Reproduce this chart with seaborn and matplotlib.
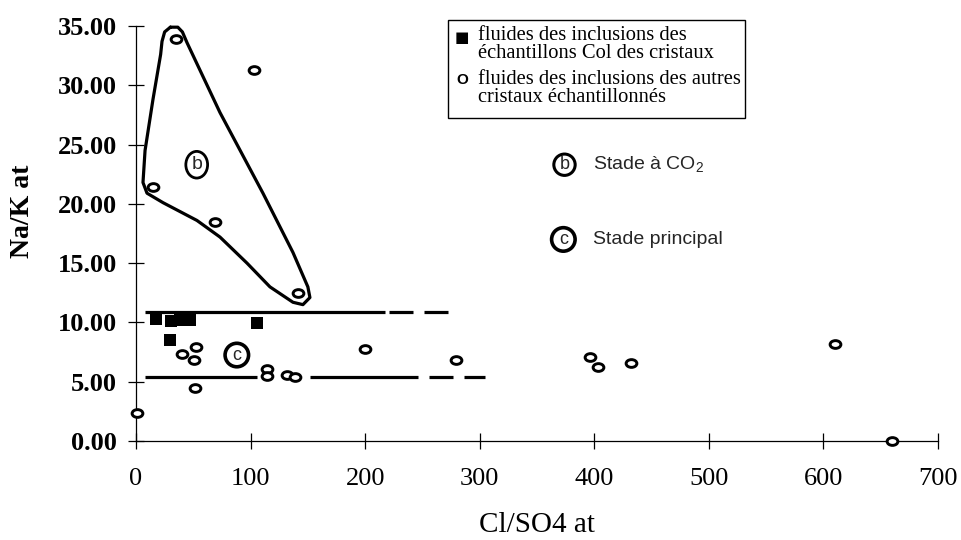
import matplotlib
matplotlib.use("Agg")
import matplotlib.pyplot as plt
import matplotlib.transforms as mtrans
from matplotlib.path import Path
from matplotlib.patches import Rectangle, Ellipse
import seaborn as sns
import pandas as pd

# ---------------- data ----------------
col_x = [17.5, 30.5, 38, 47, 105.5, 29.5]
col_y = [10.25, 10.1, 10.2, 10.2, 9.95, 8.5]

other_x = [1, 15, 35, 103, 69, 141, 52, 40, 51, 51.5, 114, 114, 132, 139,
           200, 279, 396, 403, 432, 610, 660]
other_y = [2.4, 21.4, 33.9, 31.3, 18.5, 12.5, 7.9, 7.3, 6.8, 4.5, 6.1, 5.5,
           5.6, 5.4, 7.8, 6.8, 7.1, 6.2, 6.6, 8.2, 0.0]

# envelope of the CO2 stage (closed curve)
env_x = [30, 25, 22.7, 21.5, 14.8, 7.9, 6.1, 9.6, 23.6, 53.2, 73.3, 96.9,
         116.9, 137, 145.7, 151.8, 150, 137, 110.8, 73.3, 44.5, 40.5, 36.5, 30]
env_y = [34.9, 34.5, 33.7, 32.6, 28.8, 24.5, 21.8, 20.9, 20.1, 18.6, 17.2,
         15.0, 13.0, 11.7, 11.5, 12.1, 13.0, 15.9, 20.9, 27.7, 33.6, 34.5,
         34.9, 34.9]

# dashed limits of the main stage
upper_y = 10.88
upper_start = [8, 221, 251]
upper_end = [217, 242, 272]
lower_y = 5.40
lower_start = [8, 152, 256, 286]
lower_end = [106, 246, 277, 305]

x_ticks = [0, 100, 200, 300, 400, 500, 600, 700]
y_ticks = [0, 5, 10, 15, 20, 25, 30, 35]

legend_entries = ["fluides des inclusions des\néchantillons Col des cristaux",
                  "fluides des inclusions des autres\ncristaux échantillonnés"]

# ---------------- figure ----------------
sns.set_theme(style="white")
plt.rcParams["font.family"] = ["Liberation Serif", "DejaVu Serif"]
plt.rcParams["mathtext.fontset"] = "custom"
plt.rcParams["mathtext.rm"] = "Liberation Sans"

W, H = 961, 540
fig = plt.figure(figsize=(W / 100, H / 100), dpi=100)
fig.patch.set_facecolor("white")
ax = fig.add_axes([136 / W, 1 - 441 / H, (938 - 136) / W, (441 - 26) / H])
ax.set_facecolor("white")

ell = Path.unit_circle().transformed(mtrans.Affine2D().scale(1.0, 0.72))

df_col = pd.DataFrame({"x": col_x, "y": col_y})
df_oth = pd.DataFrame({"x": other_x, "y": other_y})
df_env = pd.DataFrame({"x": env_x, "y": env_y})

sns.lineplot(data=df_env, x="x", y="y", sort=False, estimator=None, ax=ax,
             color="black", linewidth=2.3, solid_joinstyle="round",
             clip_on=False)
ax.hlines([upper_y] * len(upper_start), upper_start, upper_end, color="black",
          linewidth=2.3)
ax.hlines([lower_y] * len(lower_start), lower_start, lower_end, color="black",
          linewidth=2.3)

sns.scatterplot(data=df_oth, x="x", y="y", ax=ax, marker=ell, s=60,
                facecolor="white", edgecolor="black", linewidth=2.1,
                clip_on=False, zorder=5)
sns.scatterplot(data=df_col, x="x", y="y", ax=ax, marker="s", s=72,
                color="black", linewidth=0, clip_on=False, zorder=6)

ax.set_xlim(0, 700)
ax.set_ylim(0, 35)
ax.set_xticks(x_ticks)
ax.set_yticks(y_ticks)
ax.set_xticklabels([str(v) for v in x_ticks])
ax.set_yticklabels([f"{v:.2f}" for v in y_ticks])
for s in ["top", "right"]:
    ax.spines[s].set_visible(False)
for s in ["left", "bottom"]:
    ax.spines[s].set_color("black")
    ax.spines[s].set_linewidth(0.9)
ax.tick_params(axis="both", direction="inout", length=11, width=0.9,
               color="black", labelcolor="black", bottom=True, left=True)
ax.tick_params(axis="x", pad=14, labelsize=19)
ax.tick_params(axis="y", pad=8, labelsize=19)
for t in ax.get_yticklabels():
    t.set_fontweight("bold")

ax.set_xlabel("Cl/SO4 at", fontsize=21, color="black")
ax.set_ylabel("Na/K at", fontsize=20, color="black", fontweight="bold")
ax.xaxis.set_label_coords(0.5, (441 - 525) / (441 - 26))
ax.yaxis.set_label_coords((23 - 136) / (938 - 136), (441 - 211) / (441 - 26))
ax.xaxis.label.set_va("center")
ax.yaxis.label.set_va("center")

# circled stage symbols in the plot
ax.add_patch(Ellipse((53, 23.3), 19, 2.25, fill=False, edgecolor="black",
                     linewidth=2.0, zorder=7))
ax.text(53, 23.3, "b", family="Liberation Sans", fontsize=14, ha="center",
        va="center", zorder=8)
ax.text(88, 7.25, "c", family="Liberation Sans", fontsize=13, ha="center",
        va="center", zorder=8,
        bbox=dict(boxstyle="circle,pad=0.18", fc="white", ec="black", lw=2.6))

# stage key
ax.text(374, 23.3, "b", family="Liberation Sans", fontsize=13, ha="center",
        va="center",
        bbox=dict(boxstyle="circle,pad=0.12", fc="white", ec="black", lw=2.2))
ax.text(373, 17.0, "c", family="Liberation Sans", fontsize=13, ha="center",
        va="center",
        bbox=dict(boxstyle="circle,pad=0.18", fc="white", ec="black", lw=2.6))
ax.text(399, 23.3, "Stade à CO$_2$", family="Liberation Sans", fontsize=14,
        ha="left", va="center")
ax.text(399, 17.0, "Stade principal", family="Liberation Sans", fontsize=14,
        ha="left", va="center")

# legend box
fig.patches.append(Rectangle((448 / W, 1 - 118 / H), 297 / W, 98 / H,
                             transform=fig.transFigure, fill=False,
                             edgecolor="black", linewidth=1.0))
for txt, top in zip(legend_entries, [26, 70]):
    fig.text(478 / W, 1 - top / H, txt, fontsize=14.8, va="top",
             ha="left", color="black", linespacing=0.95)
fig.text(462 / W, 1 - 38 / H, "■", family="DejaVu Sans", fontsize=11,
         ha="center", va="center", color="black")
fig.text(462 / W, 1 - 80 / H, "O", family="Liberation Sans", fontsize=11,
         fontweight="bold", ha="center", va="center", color="black")

fig.savefig("out.png", dpi=100, facecolor="white")
